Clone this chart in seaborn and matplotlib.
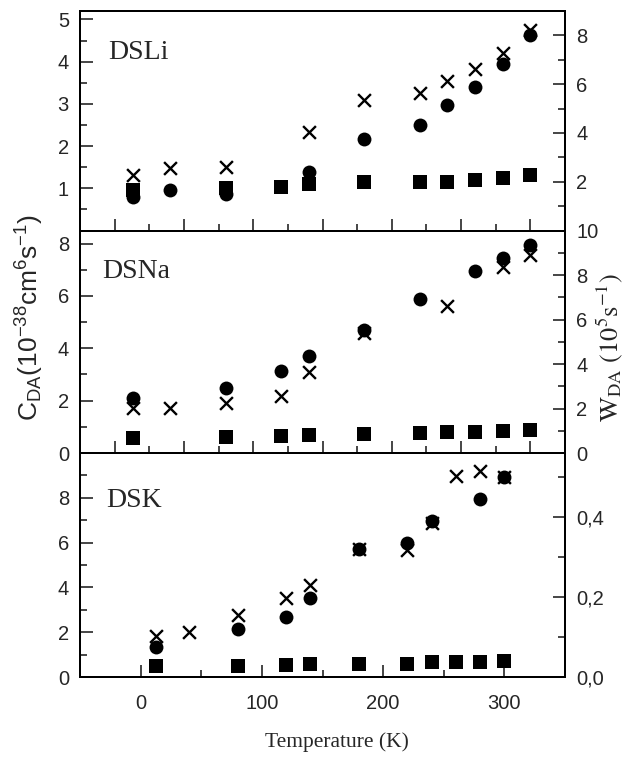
import numpy as np
import matplotlib
matplotlib.use("Agg")
import matplotlib.pyplot as plt
import seaborn as sns
from matplotlib.ticker import MultipleLocator, FixedLocator, FuncFormatter, NullFormatter

sns.set_style("ticks")
plt.rcParams['font.family'] = ['Liberation Sans', 'DejaVu Sans']
plt.rcParams['mathtext.fontset'] = 'custom'
plt.rcParams['mathtext.rm'] = 'Liberation Sans'
plt.rcParams['mathtext.it'] = 'Liberation Sans:italic'

nan = np.nan

# temperatures (K) shared by all three samples
temps = [13, 40, 80, 120, 140, 180, 220, 240, 260, 280, 300]

# DSLi: circles / squares on left axis (C_DA), crosses on right axis (W_DA)
li_circles = [0.80, 0.95, 0.87, nan, 1.38, 2.16, 2.50, 2.97, 3.40, 3.95, 4.63]
li_squares = [0.95, nan, 1.00, 1.03, 1.09, 1.14, 1.15, 1.16, 1.19, 1.24, 1.31]
li_crosses = [2.26, 2.55, 2.59, nan, 4.03, 5.34, 5.63, 6.12, 6.62, 7.27, 8.22]

# DSNa
na_circles = [2.10, nan, 2.48, 3.12, 3.72, 4.71, 5.90, nan, 6.95, 7.46, 7.94]
na_squares = [0.56, nan, 0.60, 0.66, 0.69, 0.73, 0.75, 0.79, 0.82, 0.84, 0.88]
na_crosses = [2.01, 2.01, 2.24, 2.58, 3.66, 5.39, nan, 6.59, nan, 8.36, 8.92]

# DSK
k_circles = [1.35, nan, 2.13, 2.66, 3.51, 5.71, 5.97, 6.96, nan, 7.93, 8.92]
k_squares = [0.50, nan, 0.50, 0.53, 0.58, 0.60, 0.60, 0.66, 0.67, 0.67, 0.70]
k_crosses = [0.103, 0.113, 0.155, 0.197, 0.230, 0.320, 0.318, 0.384, 0.502, 0.516, 0.499]

names = ["DSLi", "DSNa", "DSK"]
left_ticks = [[1, 2, 3, 4, 5], [0, 2, 4, 6, 8], [0, 2, 4, 6, 8]]
right_ticks = [[2, 4, 6, 8], [0, 2, 4, 6, 8, 10], [0.0, 0.2, 0.4]]
x_ticks_bottom = [0, 100, 200, 300]

panels = [
    (li_circles, li_squares, li_crosses, (-25, 325), (0, 5.2), (0, 9), 0.5, 1),
    (na_circles, na_squares, na_crosses, (-25, 325), (0, 8.5), (0, 10), 1, 1),
    (k_circles, k_squares, k_crosses, (-50, 350), (0, 10), (0, 0.56), 1, 0.1),
]
boxes = [
    [0.128, 0.6967, 0.776, 0.2888],
    [0.128, 0.4039, 0.776, 0.2928],
    [0.128, 0.1092, 0.776, 0.2947],
]
label_pos = [(0.058, 0.81), (0.045, 0.815), (0.055, 0.79)]

fig = plt.figure(figsize=(6.25, 7.6), dpi=100)

for i, (circ, sq, cross, xlim, ylim_l, ylim_r, lminor, rminor) in enumerate(panels):
    ax = fig.add_axes(boxes[i])
    ax2 = ax.twinx()

    sns.scatterplot(x=temps, y=circ, marker='o', s=100, color='black',
                    edgecolor='black', linewidth=0, ax=ax, zorder=3)
    sns.scatterplot(x=temps, y=sq, marker='s', s=90, color='black',
                    edgecolor='black', linewidth=0, ax=ax, zorder=3)
    sns.scatterplot(x=temps, y=cross, marker='x', s=85, color='black',
                    linewidth=1.7, ax=ax2, zorder=3)

    ax.set_xlim(*xlim)
    ax.set_ylim(*ylim_l)
    ax2.set_ylim(*ylim_r)

    # x ticks: the upper panels have unlabelled ticks every 50 K
    if i < 2:
        ax.xaxis.set_major_locator(MultipleLocator(50))
        ax.xaxis.set_minor_locator(MultipleLocator(25))
        ax.xaxis.set_major_formatter(NullFormatter())
    else:
        ax.xaxis.set_major_locator(FixedLocator(x_ticks_bottom))
        ax.xaxis.set_minor_locator(MultipleLocator(50))

    ax.yaxis.set_major_locator(FixedLocator(left_ticks[i]))
    ax.yaxis.set_minor_locator(MultipleLocator(lminor))
    ax2.yaxis.set_major_locator(FixedLocator(right_ticks[i]))
    ax2.yaxis.set_minor_locator(MultipleLocator(rminor))
    if i == 2:
        ax2.yaxis.set_major_formatter(FuncFormatter(lambda v, p: f"{v:.1f}".replace('.', ',')))
    else:
        ax2.yaxis.set_major_formatter(FuncFormatter(lambda v, p: f"{v:g}"))

    for a in (ax, ax2):
        a.tick_params(which='major', direction='in', length=9, width=1.2,
                      labelsize=14.5, pad=8)
        a.tick_params(which='minor', direction='in', length=5, width=1.2)
        for sp in a.spines.values():
            sp.set_linewidth(1.4)
            sp.set_color('black')
    ax.tick_params(which='both', top=False, right=False)
    ax2.tick_params(which='both', left=False, top=False, bottom=False)
    ax.tick_params(axis='x', which='major', pad=12)
    ax.set_xlabel("")
    ax.set_ylabel("")
    ax2.set_ylabel("")

    ax.text(label_pos[i][0], label_pos[i][1], names[i], transform=ax.transAxes,
            fontfamily='Liberation Serif', fontsize=20, va='center', ha='left')

fig.text(0.048, 0.582, r'$\mathrm{C_{DA}(10^{-38}cm^{6}s^{-1})}$', rotation=90,
         ha='center', va='center', fontsize=19)
fig.text(0.975, 0.543, r'$\mathrm{W_{DA}\ (10^{5}s^{-1})}$', rotation=90,
         ha='center', va='center', fontsize=19, math_fontfamily='stix')
fig.text(0.539, 0.024, 'Temperature (K)', ha='center', va='center',
         fontfamily='Liberation Serif', fontsize=15.5)

fig.savefig("out.png", dpi=100)
